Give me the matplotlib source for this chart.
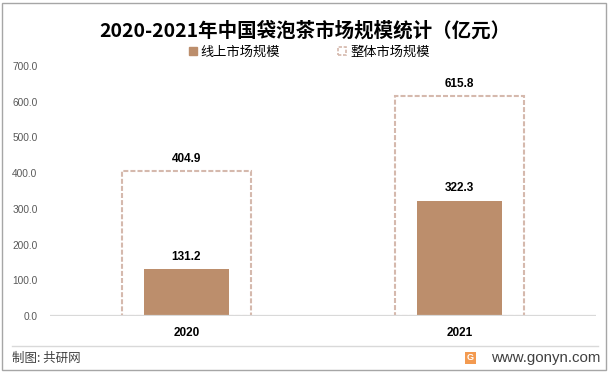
import matplotlib.pyplot as plt
from matplotlib.patches import Patch, Rectangle

# 数据
years = ['2020', '2021']
online = [131.2, 322.3]
total = [404.9, 615.8]
yticks = [0, 100, 200, 300, 400, 500, 600, 700]

plt.rcParams['font.family'] = ['Noto Sans CJK SC', 'DejaVu Sans']
num_font = 'Liberation Sans'

fig = plt.figure(figsize=(6.1, 3.72), dpi=100)
ax = fig.add_axes([50 / 610, 56 / 372, 546 / 610, 250 / 372])

x = range(len(years))
bar_color = '#BC8E6C'
box_color = '#D5B9AD'

ax.bar(x, total, width=0.476, fill=False, edgecolor=box_color,
       linewidth=1.5, linestyle=(0, (2.4, 1)), zorder=1)
ax.bar(x, online, width=0.315, color=bar_color, zorder=2)
ax.axhline(0, color='#D9D9D9', linewidth=1.6, zorder=3)

for i in x:
    ax.annotate(f'{online[i]:.1f}', (i, online[i]), xytext=(0, 9),
                textcoords='offset points', ha='center', va='center',
                fontsize=8.5, fontweight='bold', family=num_font)
    ax.annotate(f'{total[i]:.1f}', (i, total[i]), xytext=(0, 9),
                textcoords='offset points', ha='center', va='center',
                fontsize=8.5, fontweight='bold', family=num_font)

ax.set_xlim(-0.5, len(years) - 0.5)
ax.set_ylim(0, 700)
ax.set_yticks(yticks)
ax.set_yticklabels([f'{v:.1f}' for v in yticks], family=num_font,
                   fontsize=7.3, color='#595959')
ax.set_xticks(list(x))
ax.set_xticklabels(years, family=num_font, fontsize=8.5, fontweight='bold')
ax.tick_params(axis='both', length=0)
ax.tick_params(axis='y', pad=9)
ax.tick_params(axis='x', pad=8)
for s in ax.spines.values():
    s.set_visible(False)

fig.text(0.5, 0.917, '2020-2021年中国袋泡茶市场规模统计（亿元）',
         ha='center', va='center', fontsize=14, fontweight='bold')

handles = [Patch(facecolor=bar_color, edgecolor=bar_color),
           Patch(facecolor='none', edgecolor=box_color, linewidth=1.2,
                 linestyle=(0, (2, 1)))]
fig.legend(handles, ['线上市场规模', '整体市场规模'], loc='center',
           bbox_to_anchor=(0.507, 0.86), ncol=2, frameon=False, fontsize=9.5,
           handlelength=0.6, handleheight=0.6, handletextpad=0.3,
           columnspacing=4.4, borderpad=0)

# 底部分隔线与来源
fig.add_artist(plt.Line2D([12 / 610, 598 / 610], [1 - 346 / 372, 1 - 346 / 372],
                          color='#D9D9D9', linewidth=1))
fig.text(12 / 610, 1 - 358 / 372, '制图: 共研网', ha='left', va='center',
         fontsize=9, color='#404040')
fig.text(600 / 610, 1 - 358 / 372, 'www.gonyn.com', ha='right', va='center',
         fontsize=10.8, color='#404040', family=num_font)
fig.add_artist(Rectangle((465 / 610, 1 - 364 / 372), 11 / 610, 12 / 372,
                         transform=fig.transFigure, facecolor='#F39A50',
                         edgecolor='none'))
fig.text(470.5 / 610, 1 - 358 / 372, 'G', ha='center', va='center',
         fontsize=6.5, color='white', fontweight='bold', family=num_font)

# 外框
fig.add_artist(Rectangle((2 / 610, 2 / 372), 604 / 610, 367 / 372,
                         transform=fig.transFigure, fill=False,
                         edgecolor='#A6A6A6', linewidth=1))

fig.savefig('out.png', dpi=100)
